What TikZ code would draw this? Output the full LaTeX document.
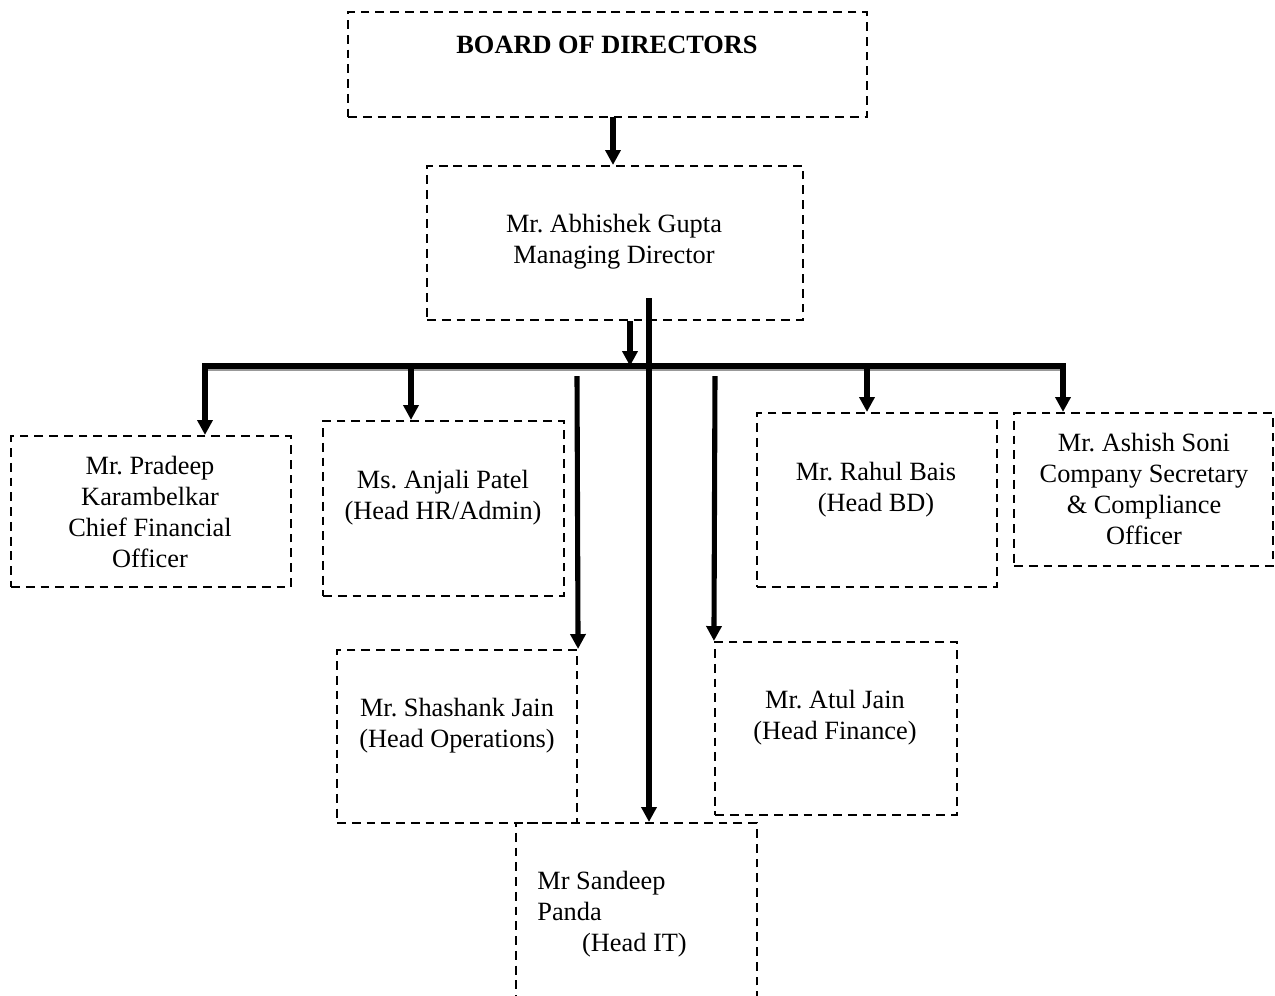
\documentclass[tikz,border=0pt]{standalone}
\usepackage{fontspec}
\setmainfont{Liberation Serif}
\usetikzlibrary{arrows.meta,fit,calc}
\tikzset{
  box/.style={draw=black, line width=1.2pt, dash pattern=on 5pt off 3.4pt, inner sep=0pt},
  txt/.style={inner sep=0pt, align=center, font=\fontsize{15}{17.6}\selectfont},
  arr/.style={draw=black, line width=2.9pt, -{Triangle[length=8.5pt,width=8.5pt]}},
  busline/.style={draw=black, line width=3pt, line cap=rect},
  busshadow/.style={draw=black!40, line width=1.6pt},
}
\frenchspacing
\begin{document}
\begin{tikzpicture}[x=0.02cm,y=-0.02cm]
\useasboundingbox (0,0) rectangle (1275,995);
\clip (0,0) rectangle (1275,995);
% boxes
\node[box, fit={(348,12) (867,117)}] (board) {};
\node[box, fit={(427,166) (803,320)}] (md) {};
\node[box, fit={(11,436) (291,587)}] (cfo) {};
\node[box, fit={(323,421) (564,596)}] (anjali) {};
\node[box, fit={(757,413) (997,587)}] (rahul) {};
\node[box, fit={(1014,413) (1273,566)}] (ashish) {};
\node[box, fit={(337,650) (577,823)}] (shashank) {};
\node[box, fit={(715,642) (957,815)}] (atul) {};
\node[box, fit={(516,823) (757,1010)}] (sandeep) {};
% texts
\node[txt, font=\fontsize{15}{17.6}\selectfont\bfseries] (tboard) at (607,45) {BOARD OF DIRECTORS};
\node[txt] (tmd) at (614,242) {Mr. Abhishek Gupta\\Managing Director};
\node[txt] (tcfo) at (150,512) {Mr. Pradeep\\Karambelkar\\Chief Financial\\Officer};
\node[txt] (tanjali) at (443,498) {Ms. Anjali Patel\\(Head HR/Admin)};
\node[txt] (trahul) at (876,490) {Mr. Rahul Bais\\(Head BD)};
\node[txt] (tashish) at (1144,489) {Mr. Ashish Soni\\Company Secretary\\\& Compliance\\Officer};
\node[txt] (tshashank) at (457,726) {Mr. Shashank Jain\\(Head Operations)};
\node[txt] (tatul) at (835,718) {Mr. Atul Jain\\(Head Finance)};
\node[txt, align=left, anchor=west] (tsandeep) at (537,914) {Mr Sandeep\\Panda\\\hspace*{25.5pt}(Head IT)};
% connector coordinates
\coordinate (top) at (613,117);
\coordinate (busL) at (205,366);
\coordinate (busR) at (1063,366);
\coordinate (b0) at (630,366);
\coordinate (b2) at (411,366);
\coordinate (b5) at (867,366);
\coordinate (s1) at (577,376);
\coordinate (s2) at (715,376);
\coordinate (it0) at (649,298);
% connectors
\draw[arr] (top) -- (top |- md.north);
\draw[busshadow] ($(busL)+(3,3.8)$) -- ($(busR)+(-3,3.8)$);
\draw[busline] (busL) -- (busR);
\draw[arr] (b0 |- md.south) -- (b0);
\draw[arr] (busL) -- (busL |- cfo.north);
\draw[arr] (b2) -- (b2 |- anjali.north);
\draw[arr] (b5) -- (b5 |- rahul.north);
\draw[arr] (busR) -- (busR |- ashish.north);
\draw[arr] (s1) -- (shashank.north east);
\draw[arr] (s2) -- (atul.north west);
\draw[arr] (it0) -- (it0 |- sandeep.north);
\end{tikzpicture}
\end{document}
